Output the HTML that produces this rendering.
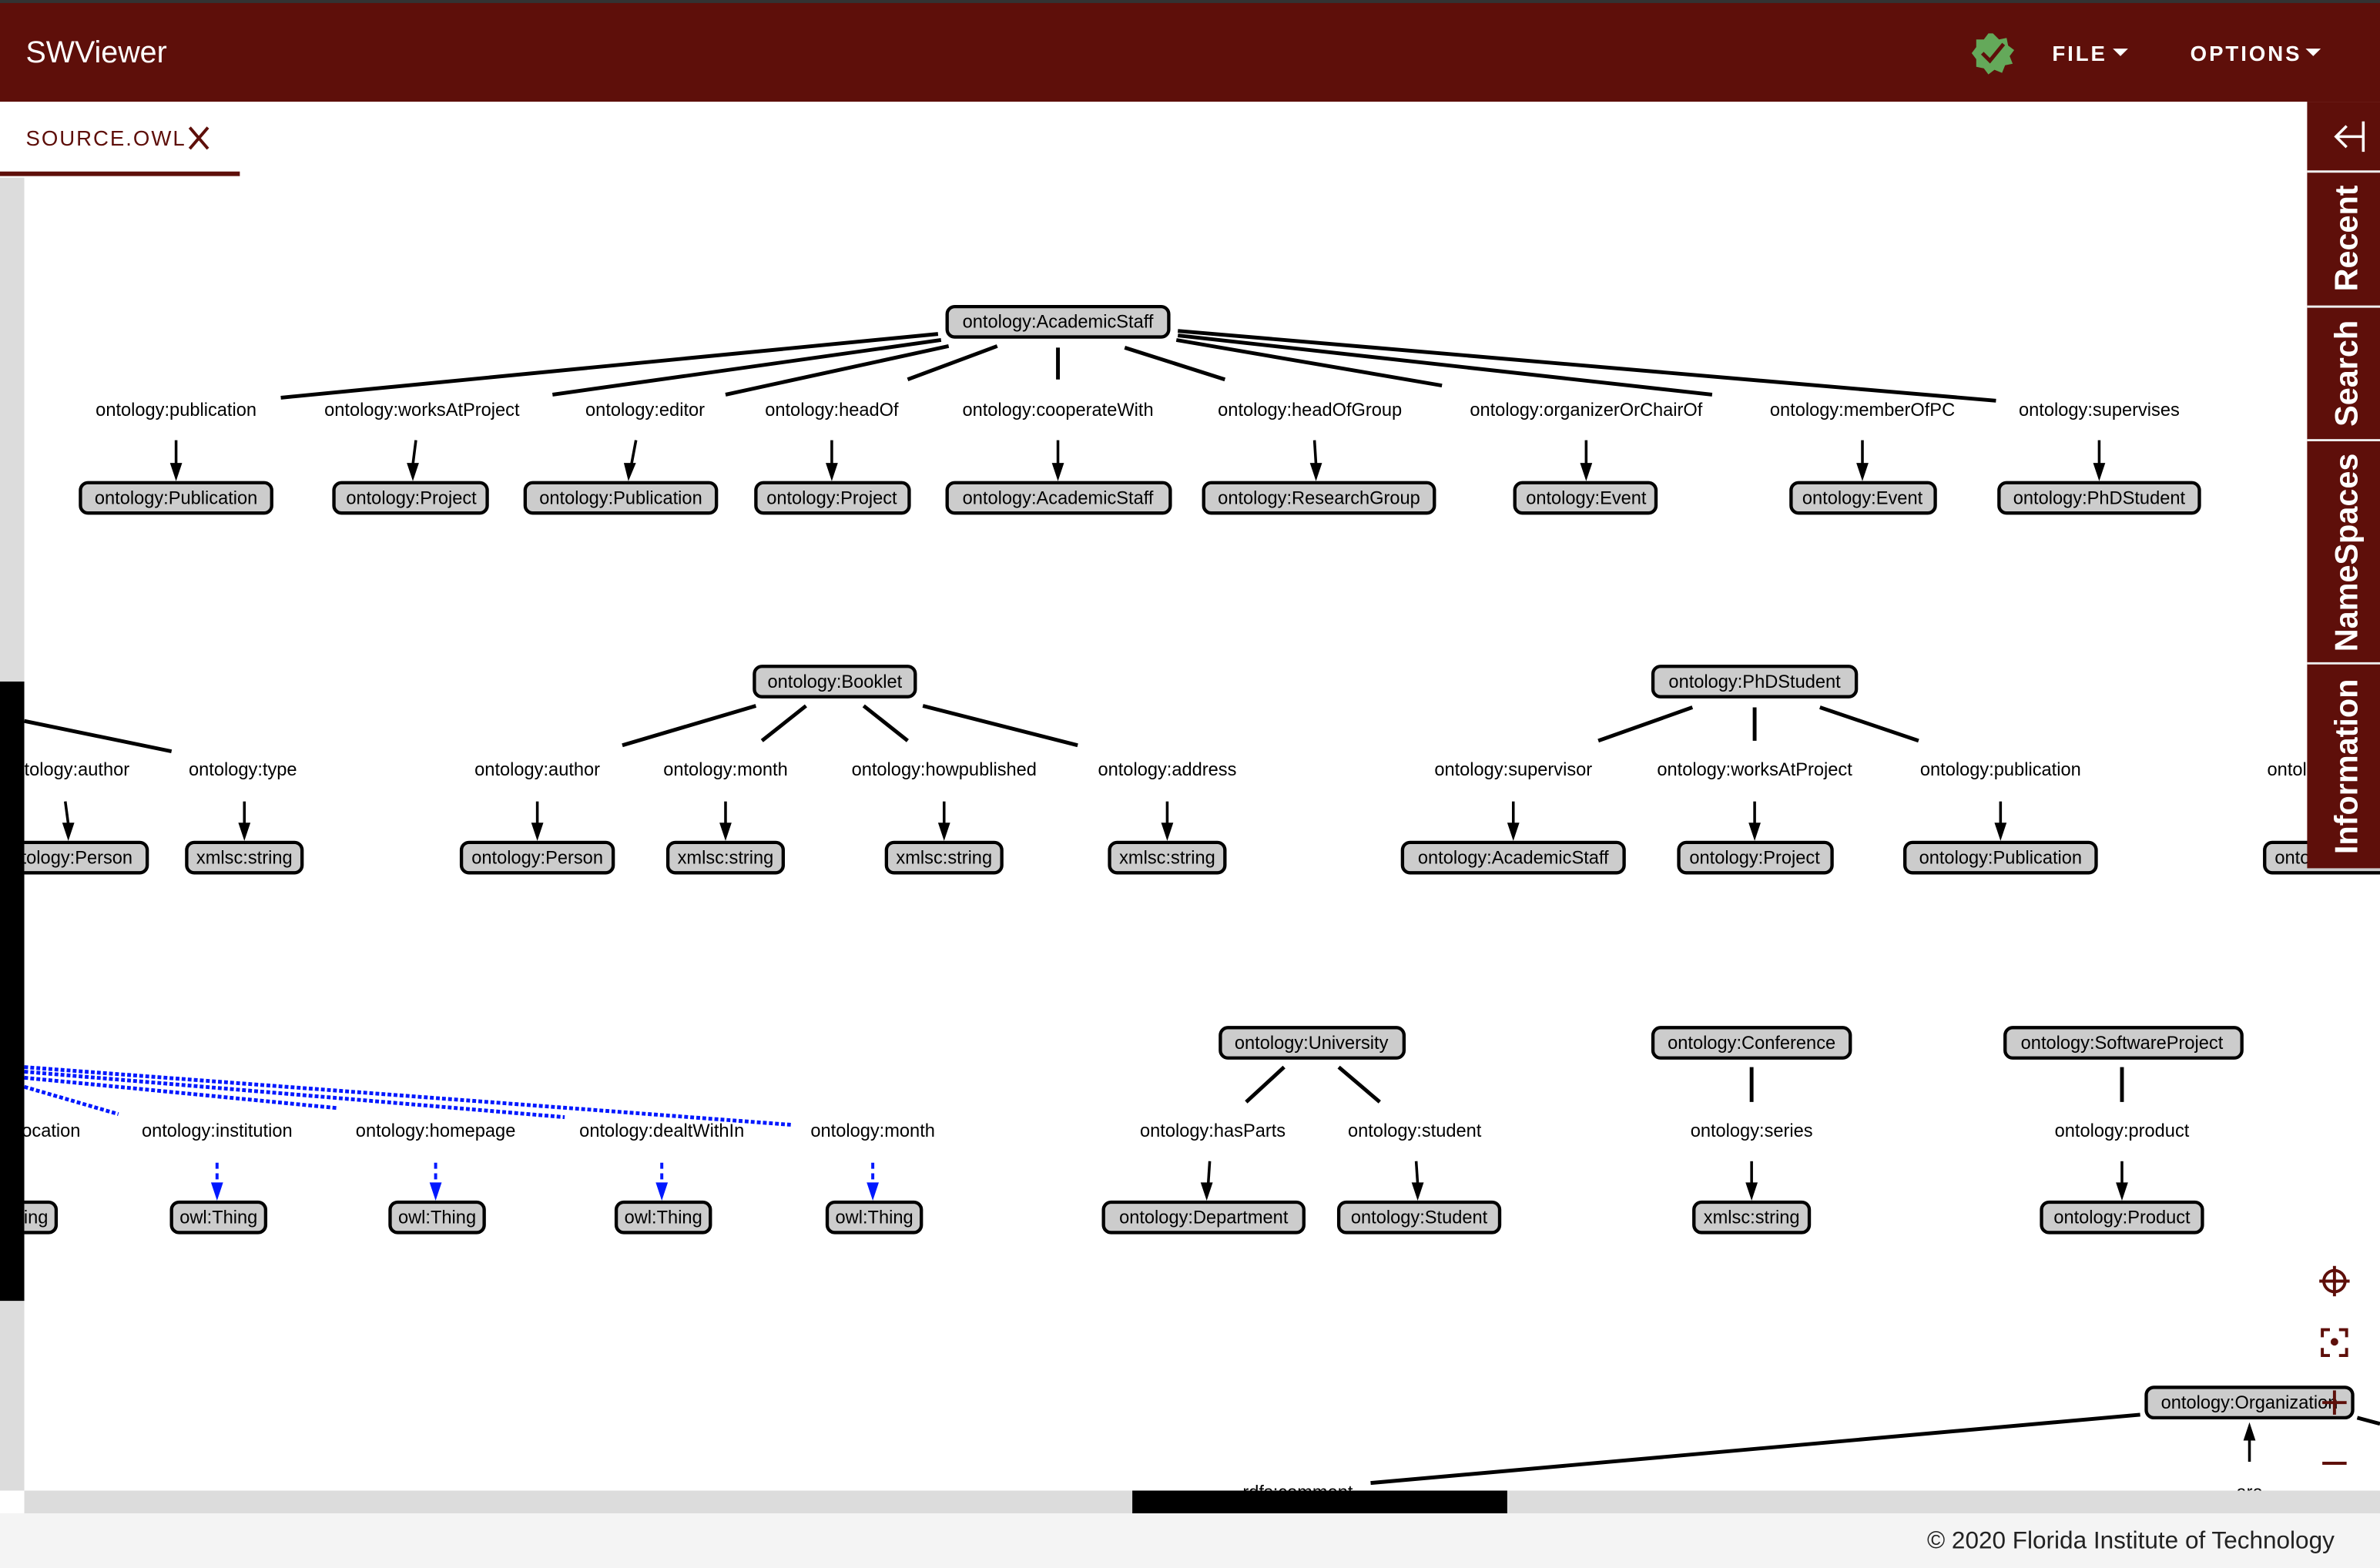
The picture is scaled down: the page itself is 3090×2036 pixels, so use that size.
<!DOCTYPE html>
<html><head><meta charset="utf-8"><style>
html,body{margin:0;padding:0;width:3090px;height:2036px;overflow:hidden;background:#fff}
svg{display:block}
.n rect{fill:#cccccc;stroke:#000;stroke-width:2.2}
.n text,.lb{font-family:"Liberation Sans",sans-serif;font-size:12px;fill:#000;text-anchor:middle}
.e{stroke:#000;stroke-width:2.5;fill:none}
.a{stroke:#000;stroke-width:1.8}
.b{stroke:#0018ff;stroke-width:2.5;stroke-dasharray:2.5 1.5;fill:none}
.bd{stroke:#0018ff;stroke-width:2;stroke-dasharray:4 3}
</style></head><body>
<svg width="3090" height="2036" viewBox="0 0 1568 1033" preserveAspectRatio="none" xmlns="http://www.w3.org/2000/svg">
<defs>
<clipPath id="cv"><rect x="16" y="117" width="1552" height="865"/></clipPath>
</defs>
<rect x="0" y="0" width="1568" height="1033" fill="#fff"/>
<!-- header -->
<rect x="0" y="0" width="1568" height="67" fill="#5e0f0a"/>
<rect x="0" y="0" width="1568" height="2" fill="#333"/>
<text x="17" y="41" font-family="Liberation Sans,sans-serif" font-size="20" fill="#fff">SWViewer</text>
<polygon points="1313,22 1317,26 1322,25 1323,30 1327,33 1324,37 1326,42 1321,43 1319,48 1314,46 1310,49 1307,45 1302,44 1302,39 1299,35 1302,31 1302,26 1307,26 1310,22" fill="#64a95a"/>
<path d="M1306,35 L1311,40 L1320,29" stroke="#5e0f0a" stroke-width="2.5" fill="none"/>
<text x="1352" y="40" font-family="Liberation Sans,sans-serif" font-size="14" font-weight="bold" fill="#fff" letter-spacing="1.5">FILE</text>
<polygon points="1392,32 1402,32 1397,37" fill="#fff"/>
<text x="1443" y="40" font-family="Liberation Sans,sans-serif" font-size="14" font-weight="bold" fill="#fff" letter-spacing="1.5">OPTIONS</text>
<polygon points="1519,32 1529,32 1524,37" fill="#fff"/>
<!-- tab -->
<text x="17" y="96" font-family="Liberation Sans,sans-serif" font-size="14" fill="#5e0f0a" letter-spacing="1">SOURCE.OWL</text>
<path d="M125,84 L137,98 M137,84 L125,98" stroke="#5e0f0a" stroke-width="2"/>
<rect x="0" y="113" width="158" height="3" fill="#5e0f0a"/>
<!-- left bar -->
<rect x="0" y="117" width="16" height="865" fill="#dcdcdc"/>
<rect x="0" y="449" width="16" height="408" fill="#000"/>

<g clip-path="url(#cv)">
<!-- Row 1 -->
<g class="e">
<line x1="618" y1="220" x2="185" y2="262"/><line x1="620" y1="224" x2="364" y2="260"/>
<line x1="625" y1="228" x2="478" y2="260"/><line x1="657" y1="228" x2="598" y2="250"/>
<line x1="697" y1="229" x2="697" y2="250"/><line x1="741" y1="229" x2="807" y2="250"/>
<line x1="775" y1="224" x2="950" y2="254"/><line x1="776" y1="221" x2="1128" y2="260"/>
<line x1="776" y1="218" x2="1315" y2="264"/>
</g>
<g class="a">
<line x1="116" y1="290" x2="116" y2="306"/><line x1="274" y1="290" x2="272" y2="306"/>
<line x1="419" y1="290" x2="416" y2="306"/><line x1="548" y1="290" x2="548" y2="306"/>
<line x1="697" y1="290" x2="697" y2="306"/><line x1="866" y1="290" x2="867" y2="306"/>
<line x1="1045" y1="290" x2="1045" y2="306"/><line x1="1227" y1="290" x2="1227" y2="306"/>
<line x1="1383" y1="290" x2="1383" y2="306"/>
</g>
<g fill="#000">
<polygon points="112,305 120,305 116,317"/><polygon points="268,305 276,305 272,317"/>
<polygon points="411,305 419,305 414,317"/><polygon points="544,305 552,305 548,317"/>
<polygon points="693,305 701,305 697,317"/><polygon points="863,305 871,305 867,317"/>
<polygon points="1041,305 1049,305 1045,317"/><polygon points="1223,305 1231,305 1227,317"/>
<polygon points="1379,305 1387,305 1383,317"/>
</g>
<text class="lb" x="116" y="274">ontology:publication</text><text class="lb" x="278" y="274">ontology:worksAtProject</text>
<text class="lb" x="425" y="274">ontology:editor</text><text class="lb" x="548" y="274">ontology:headOf</text>
<text class="lb" x="697" y="274">ontology:cooperateWith</text><text class="lb" x="863" y="274">ontology:headOfGroup</text>
<text class="lb" x="1045" y="274">ontology:organizerOrChairOf</text><text class="lb" x="1227" y="274">ontology:memberOfPC</text>
<text class="lb" x="1383" y="274">ontology:supervises</text>
<g class="n">
<rect x="624" y="202" width="146" height="20" rx="5"/><text x="697" y="216">ontology:AcademicStaff</text>
<rect x="53" y="318" width="126" height="20" rx="5"/><text x="116" y="332">ontology:Publication</text>
<rect x="220" y="318" width="101" height="20" rx="5"/><text x="271" y="332">ontology:Project</text>
<rect x="346" y="318" width="126" height="20" rx="5"/><text x="409" y="332">ontology:Publication</text>
<rect x="498" y="318" width="101" height="20" rx="5"/><text x="548" y="332">ontology:Project</text>
<rect x="624" y="318" width="147" height="20" rx="5"/><text x="697" y="332">ontology:AcademicStaff</text>
<rect x="793" y="318" width="152" height="20" rx="5"/><text x="869" y="332">ontology:ResearchGroup</text>
<rect x="998" y="318" width="93" height="20" rx="5"/><text x="1045" y="332">ontology:Event</text>
<rect x="1180" y="318" width="95" height="20" rx="5"/><text x="1227" y="332">ontology:Event</text>
<rect x="1317" y="318" width="132" height="20" rx="5"/><text x="1383" y="332">ontology:PhDStudent</text>
</g>

<!-- Row 2 -->
<g class="e">
<line x1="16" y1="475" x2="113" y2="495"/>
<line x1="498" y1="465" x2="410" y2="491"/><line x1="531" y1="465" x2="502" y2="488"/>
<line x1="569" y1="465" x2="598" y2="488"/><line x1="608" y1="465" x2="710" y2="491"/>
<line x1="1115" y1="466" x2="1053" y2="488"/><line x1="1156" y1="466" x2="1156" y2="488"/>
<line x1="1199" y1="466" x2="1264" y2="488"/>
</g>
<g class="a">
<line x1="43" y1="528" x2="45" y2="543"/><line x1="161" y1="528" x2="161" y2="543"/>
<line x1="354" y1="528" x2="354" y2="543"/><line x1="478" y1="528" x2="478" y2="543"/>
<line x1="622" y1="528" x2="622" y2="543"/><line x1="769" y1="528" x2="769" y2="543"/>
<line x1="997" y1="528" x2="997" y2="543"/><line x1="1156" y1="528" x2="1156" y2="543"/>
<line x1="1318" y1="528" x2="1318" y2="543"/>
</g>
<g fill="#000">
<polygon points="41,542 49,542 45,554"/><polygon points="157,542 165,542 161,554"/>
<polygon points="350,542 358,542 354,554"/><polygon points="474,542 482,542 478,554"/>
<polygon points="618,542 626,542 622,554"/><polygon points="765,542 773,542 769,554"/>
<polygon points="993,542 1001,542 997,554"/><polygon points="1152,542 1160,542 1156,554"/>
<polygon points="1314,542 1322,542 1318,554"/>
</g>
<text class="lb" x="44" y="511">ontology:author</text><text class="lb" x="160" y="511">ontology:type</text>
<text class="lb" x="354" y="511">ontology:author</text><text class="lb" x="478" y="511">ontology:month</text>
<text class="lb" x="622" y="511">ontology:howpublished</text><text class="lb" x="769" y="511">ontology:address</text>
<text class="lb" x="997" y="511">ontology:supervisor</text><text class="lb" x="1156" y="511">ontology:worksAtProject</text>
<text class="lb" x="1318" y="511">ontology:publication</text>
<text class="lb" x="1530" y="511">ontology:xxxx</text>
<g class="n">
<rect x="497" y="439" width="106" height="20" rx="5"/><text x="550" y="453">ontology:Booklet</text>
<rect x="1089" y="439" width="134" height="20" rx="5"/><text x="1156" y="453">ontology:PhDStudent</text>
<rect x="-10" y="555" width="107" height="20" rx="5"/><text x="44" y="569">ontology:Person</text>
<rect x="123" y="555" width="76" height="20" rx="5"/><text x="161" y="569">xmlsc:string</text>
<rect x="304" y="555" width="100" height="20" rx="5"/><text x="354" y="569">ontology:Person</text>
<rect x="440" y="555" width="76" height="20" rx="5"/><text x="478" y="569">xmlsc:string</text>
<rect x="584" y="555" width="76" height="20" rx="5"/><text x="622" y="569">xmlsc:string</text>
<rect x="731" y="555" width="76" height="20" rx="5"/><text x="769" y="569">xmlsc:string</text>
<rect x="924" y="555" width="146" height="20" rx="5"/><text x="997" y="569">ontology:AcademicStaff</text>
<rect x="1106" y="555" width="101" height="20" rx="5"/><text x="1156" y="569">ontology:Project</text>
<rect x="1255" y="555" width="126" height="20" rx="5"/><text x="1318" y="569">ontology:Publication</text>
<rect x="1492" y="555" width="100" height="20" rx="5"/><text x="1542" y="569">ontology:Person</text>
</g>

<!-- Row 3 -->
<g class="b">
<line x1="16" y1="716" x2="78" y2="734"/><line x1="16" y1="710" x2="222" y2="730"/>
<line x1="16" y1="706" x2="372" y2="736"/><line x1="16" y1="703" x2="521" y2="741"/>
</g>
<g class="bd"><line x1="143" y1="766" x2="143" y2="780"/><line x1="287" y1="766" x2="287" y2="780"/><line x1="436" y1="766" x2="436" y2="780"/><line x1="575" y1="766" x2="575" y2="780"/></g>
<g fill="#0018ff"><polygon points="139,779 147,779 143,791"/><polygon points="283,779 291,779 287,791"/><polygon points="432,779 440,779 436,791"/><polygon points="571,779 579,779 575,791"/></g>
<g class="e">
<line x1="846" y1="703" x2="821" y2="726"/><line x1="882" y1="703" x2="909" y2="726"/>
<line x1="1154" y1="703" x2="1154" y2="726"/><line x1="1398" y1="703" x2="1398" y2="726"/>
</g>
<g class="a">
<line x1="797" y1="765" x2="796" y2="780"/><line x1="933" y1="765" x2="934" y2="780"/>
<line x1="1154" y1="765" x2="1154" y2="780"/><line x1="1398" y1="765" x2="1398" y2="780"/>
</g>
<g fill="#000">
<polygon points="791,779 799,779 795,791"/><polygon points="930,779 938,779 934,791"/>
<polygon points="1150,779 1158,779 1154,791"/><polygon points="1394,779 1402,779 1398,791"/>
</g>
<text class="lb" x="8" y="749">ontology:location</text><text class="lb" x="143" y="749">ontology:institution</text>
<text class="lb" x="287" y="749">ontology:homepage</text><text class="lb" x="436" y="749">ontology:dealtWithIn</text>
<text class="lb" x="575" y="749">ontology:month</text>
<text class="lb" x="799" y="749">ontology:hasParts</text><text class="lb" x="932" y="749">ontology:student</text>
<text class="lb" x="1154" y="749">ontology:series</text><text class="lb" x="1398" y="749">ontology:product</text>
<g class="n">
<rect x="-25" y="792" width="62" height="20" rx="5"/><text x="6" y="806">owl:Thing</text>
<rect x="113" y="792" width="62" height="20" rx="5"/><text x="144" y="806">owl:Thing</text>
<rect x="257" y="792" width="62" height="20" rx="5"/><text x="288" y="806">owl:Thing</text>
<rect x="406" y="792" width="62" height="20" rx="5"/><text x="437" y="806">owl:Thing</text>
<rect x="545" y="792" width="62" height="20" rx="5"/><text x="576" y="806">owl:Thing</text>
<rect x="804" y="677" width="121" height="20" rx="5"/><text x="864" y="691">ontology:University</text>
<rect x="1089" y="677" width="130" height="20" rx="5"/><text x="1154" y="691">ontology:Conference</text>
<rect x="1321" y="677" width="156" height="20" rx="5"/><text x="1398" y="691">ontology:SoftwareProject</text>
<rect x="727" y="792" width="132" height="20" rx="5"/><text x="793" y="806">ontology:Department</text>
<rect x="882" y="792" width="106" height="20" rx="5"/><text x="935" y="806">ontology:Student</text>
<rect x="1116" y="792" width="76" height="20" rx="5"/><text x="1154" y="806">xmlsc:string</text>
<rect x="1345" y="792" width="106" height="20" rx="5"/><text x="1398" y="806">ontology:Product</text>
</g>
<!-- bottom -->
<line class="e" x1="1410" y1="932" x2="903" y2="977"/>
<line class="e" x1="1553" y1="934" x2="1568" y2="938"/>
<line class="a" x1="1482" y1="963" x2="1482" y2="948"/>
<polygon points="1478,949 1486,949 1482,937" fill="#000"/>
<text class="lb" x="855" y="987">rdfs:comment</text>
<text class="lb" x="1482" y="987">are</text>
<g class="n"><rect x="1414" y="914" width="136" height="20" rx="5"/><text x="1482" y="928">ontology:Organization</text></g>
</g>

<!-- right controls -->
<g stroke="#5e0f0a" stroke-width="2" fill="none">
<circle cx="1538" cy="844" r="7"/><line x1="1538" y1="834" x2="1538" y2="854"/><line x1="1528" y1="844" x2="1548" y2="844"/>
<path d="M1530,881 v-5 h5 M1541,876 h5 v5 M1546,888 v5 h-5 M1535,893 h-5 v-5"/>
<line x1="1538" y1="916" x2="1538" y2="932"/><line x1="1530" y1="924" x2="1546" y2="924"/>
<line x1="1530" y1="964" x2="1546" y2="964"/>
</g>
<circle cx="1538" cy="844" r="1" fill="#5e0f0a"/><circle cx="1538" cy="884" r="2.5" fill="#5e0f0a"/>
<!-- sidebar -->
<rect x="1520" y="67" width="48" height="505" fill="#5e0f0a"/>
<g stroke="#eee" stroke-width="1.5"><line x1="1520" y1="113" x2="1568" y2="113"/><line x1="1520" y1="202" x2="1568" y2="202"/><line x1="1520" y1="290" x2="1568" y2="290"/><line x1="1520" y1="437" x2="1568" y2="437"/></g>
<path d="M1557,80 v20 M1540,90 h17 M1546,83 l-7,7 l7,7" stroke="#fff" stroke-width="1.8" fill="none"/>
<g font-family="Liberation Sans,sans-serif" font-size="21" font-weight="bold" fill="#fff" text-anchor="middle">
<text transform="translate(1553,157) rotate(-90)">Recent</text>
<text transform="translate(1553,246) rotate(-90)">Search</text>
<text transform="translate(1553,364) rotate(-90)">NameSpaces</text>
<text transform="translate(1553,505) rotate(-90)">Information</text>
</g>
<!-- scrollbar & footer -->
<rect x="16" y="982" width="1552" height="15" fill="#dcdcdc"/>
<rect x="746" y="982" width="247" height="15" fill="#000"/>
<rect x="0" y="997" width="1568" height="36" fill="#f4f4f4"/>
<text x="1538" y="1020" text-anchor="end" font-family="Liberation Sans,sans-serif" font-size="16" fill="#222">© 2020 Florida Institute of Technology</text>
</svg>
</body></html>
